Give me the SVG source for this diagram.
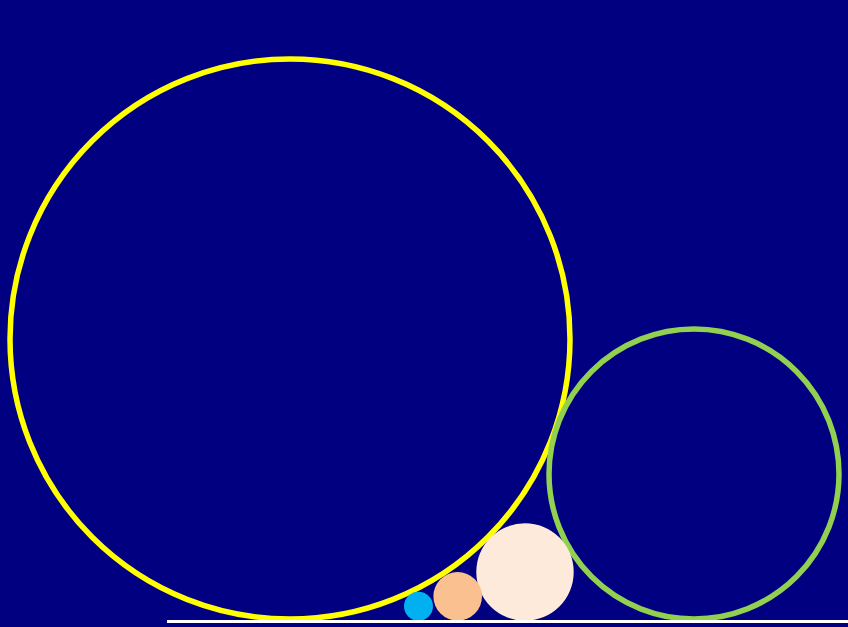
<svg xmlns="http://www.w3.org/2000/svg" width="848" height="627" viewBox="0 0 848 627">
<rect width="848" height="627" fill="#000080"/>
<g id="big-yellow"><circle cx="290" cy="339" r="280" fill="none" stroke="#FFFF00" stroke-width="5.5"/></g>
<g id="green"><circle cx="694" cy="474" r="145" fill="none" stroke="#92D050" stroke-width="5.5"/></g>
<g id="cream"><circle cx="525" cy="572" r="48.7" fill="#FDEADA"/></g>
<g id="peach"><circle cx="457.7" cy="596.4" r="24.3" fill="#FAC090"/></g>
<g id="blue"><circle cx="418.5" cy="606.2" r="14.5" fill="#00B0F0"/></g>
<g id="ground"><line x1="167" y1="621.5" x2="848" y2="621.5" stroke="#FFFFFF" stroke-width="3"/></g>
</svg>
